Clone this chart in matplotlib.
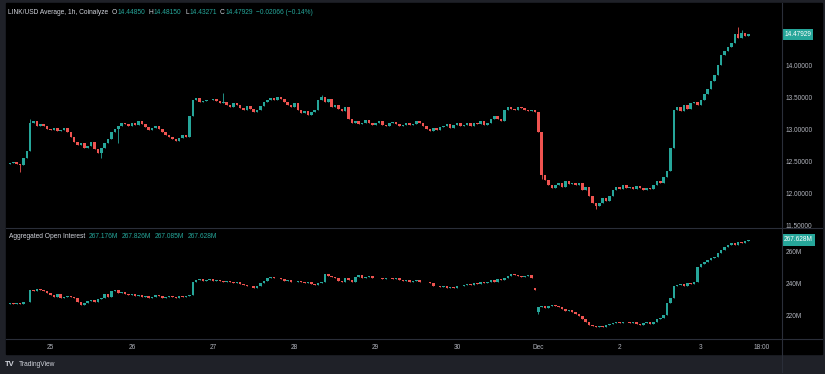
import matplotlib
matplotlib.use('Agg')
import matplotlib.pyplot as plt
from matplotlib.patches import Rectangle
from matplotlib.lines import Line2D
from matplotlib.transforms import IdentityTransform
import numpy as np
import pandas as pd

# hourly LINK/USD closes, first candle Nov 24 12:00
price_close = [
    12.47, 12.49, 12.46, 12.44, 12.55, 12.65, 13.10, 13.12, 13.05, 13.08, 13.04,
    13.00, 12.98, 13.02, 12.97, 12.99, 13.01,
    12.95, 12.88, 12.80, 12.75,
    12.78, 12.70, 12.73, 12.80, 12.68, 12.62, 12.70,
    12.78, 12.85, 12.95, 13.00, 13.05, 13.10, 13.08,
    13.05, 13.10, 13.06, 13.12, 13.08, 13.03,
    12.98, 13.02, 13.05, 13.00,
    12.95, 12.90, 12.88, 12.85, 12.82, 12.86,
    12.90, 12.88, 13.20, 13.45,
    13.48, 13.42, 13.44, 13.46, 13.45, 13.47, 13.43,
    13.40, 13.42, 13.38, 13.35, 13.40, 13.37, 13.33, 13.30, 13.36, 13.32,
    13.26, 13.30,
    13.36, 13.42, 13.45, 13.48, 13.46, 13.50, 13.47,
    13.42, 13.38, 13.35, 13.40, 13.30,
    13.25, 13.28, 13.22, 13.26, 13.30,
    13.45, 13.50, 13.42, 13.47, 13.35,
    13.38, 13.32, 13.28, 13.35,
    13.15, 13.10,
    13.12, 13.08, 13.10, 13.14, 13.09, 13.06, 13.10, 13.12, 13.07, 13.05,
    13.09, 13.11, 13.08, 13.04, 13.07, 13.10, 13.06, 13.08, 13.12, 13.10,
    13.05, 13.00, 12.97, 13.02, 12.98, 13.03,
    13.05, 13.08, 13.02, 13.06, 13.10, 13.04, 13.07, 13.09, 13.05, 13.10,
    13.08, 13.12, 13.06, 13.10, 13.15,
    13.20, 13.15, 13.12, 13.30, 13.35,
    13.32, 13.30, 13.35, 13.33, 13.30, 13.28, 13.30, 13.27,
    12.95, 12.28, 12.20, 12.12,
    12.08, 12.12, 12.15, 12.10, 12.18, 12.14, 12.16, 12.12, 12.15,
    12.05, 12.10, 11.95, 11.85, 11.80,
    11.85, 11.92, 11.88, 11.95,
    12.05, 12.10, 12.07, 12.12, 12.08, 12.10, 12.06, 12.11, 12.08, 12.05, 12.08, 12.06,
    12.12, 12.18, 12.15, 12.25, 12.35,
    12.70, 13.30,
    13.35, 13.28, 13.38, 13.32, 13.40, 13.42, 13.38, 13.45,
    13.55, 13.62, 13.75, 13.85, 14.00, 14.15,
    14.22, 14.28, 14.35,
    14.48, 14.42, 14.50, 14.4485, 14.47929,
]
price_open0 = 12.45
price_hi = {6: 13.15, 63: 13.56, 92: 13.53, 215: 14.60, 216: 14.55}
price_lo = {3: 12.33, 27: 12.55, 32: 12.78, 157: 12.22, 173: 11.75}

# aggregated open interest, millions
oi_close = [
    228.0, 227.5, 228.2, 227.8, 228.5, 229.0,
    236.5, 235.5, 237.0, 236.0, 235.5,
    234.5, 233.0, 232.0, 233.5, 231.5,
    232.0, 232.5, 231.8, 231.0,
    228.5, 227.0, 228.0,
    229.5, 230.0, 229.0, 230.5, 231.0,
    233.5, 232.0, 235.5, 236.0, 234.5, 235.0,
    234.0, 233.0, 233.5, 232.5, 233.0, 232.0,
    232.5, 231.5, 232.0, 233.0, 232.5, 231.5, 232.0, 232.8, 232.0, 231.5, 232.2, 231.8, 232.5, 233.0,
    241.0, 242.5,
    243.0, 242.0, 242.5, 243.0, 241.8, 242.5, 242.0, 241.0, 242.0, 241.5, 240.5, 241.0, 240.0,
    239.5, 238.5, 239.0, 237.5,
    239.0, 240.5, 242.0, 243.5, 244.5, 244.0,
    243.5, 243.0, 242.0, 242.5, 241.0, 241.5, 242.0, 241.0,
    240.5, 241.0, 240.0, 239.5, 240.5, 241.5,
    246.0, 245.0, 244.5,
    243.5, 242.0, 241.0, 243.5, 242.5, 241.0,
    244.5, 245.5, 244.0, 244.5, 245.0, 244.0,
    243.5, 244.0, 243.0, 243.5, 244.0, 243.0, 243.5, 242.5,
    242.0, 242.5, 241.5, 242.0, 242.5, 241.5, 241.0, 241.5, 240.5,
    239.0, 238.5, 238.0, 238.5, 237.5, 238.0, 237.5, 238.5,
    239.0, 239.5, 240.0, 239.5, 240.5, 240.0, 241.0, 240.5, 241.5, 242.5, 241.5, 243.0, 242.5,
    243.5, 245.0, 246.0, 245.5, 245.0, 244.5, 245.0, 245.5, 244.0,
    236.0, 225.5,
    226.0, 225.0, 226.5, 227.0, 226.0, 225.5,
    224.5, 223.0, 224.0, 222.5, 221.5,
    220.0, 218.0, 216.0, 214.5,
    213.5, 213.0, 214.0, 213.0, 214.5, 215.0,
    215.5, 216.0, 215.5, 216.5, 216.0, 215.5, 216.5, 215.0, 214.5, 215.5, 216.0, 215.0,
    216.5, 218.0, 219.0, 220.5,
    228.0, 231.5, 238.5, 239.5,
    240.0, 239.0, 240.5, 240.0, 241.0, 250.5,
    252.5, 253.5, 255.0, 256.5, 257.0,
    259.5, 261.0, 263.0, 264.5, 265.5,
    264.5, 266.0, 265.5, 267.176, 267.628,
]
oi_open0 = 227.8
oi_open_gap = {155: 237.5, 156: 222.5}
oi_lo = {156: 221.0}

x_ticks = ['2024-11-25 00:00', '2024-11-26 00:00', '2024-11-27 00:00', '2024-11-28 00:00',
           '2024-11-29 00:00', '2024-11-30 00:00', '2024-12-01 00:00', '2024-12-02 00:00',
           '2024-12-03 00:00', '2024-12-03 18:00']
x_labels = ['25', '26', '27', '28', '29', '30', 'Dec', '2', '3', '18:00']
price_ticks = [11.5, 12.0, 12.5, 13.0, 13.5, 14.0]
oi_ticks = [220, 240, 260]

UP = '#26a69a'
DOWN = '#ef5350'
TXT = '#b2b5be'
FRAME = '#1f2128'
LINE = '#2a2e39'

plt.rcParams['font.family'] = ['Liberation Sans', 'DejaVu Sans']

W, H = 825, 374
fig = plt.figure(figsize=(W / 100, H / 100), dpi=100, facecolor=FRAME)
fig.patches.append(Rectangle((6 / W, 1 - 354 / H), 816 / W, 351 / H,
                             transform=fig.transFigure, color='black', zorder=-10))

ax1 = fig.add_axes([6 / W, 1 - 227 / H, 775 / W, 224 / H])
ax2 = fig.add_axes([6 / W, 1 - 338 / H, 775 / W, 110 / H], sharex=ax1)


def candles(ax, closes, open0, hi, lo, gaps, min_h):
    t = pd.date_range('2024-11-24 12:00', periods=len(closes), freq='h')
    c = np.array(closes, dtype=float)
    o = np.r_[open0, c[:-1]]
    for i, v in gaps.items():
        o[i] = v
    highs = np.maximum(o, c)
    lows = np.minimum(o, c)
    for i, v in hi.items():
        highs[i] = max(highs[i], v)
    for i, v in lo.items():
        lows[i] = min(lows[i], v)
    col = np.where(c >= o, UP, DOWN)
    ax.vlines(t, lows, highs, colors=col, lw=0.6)
    small = np.abs(c - o) < min_h
    ax.bar(t, np.where(small, min_h, c - o), bottom=np.where(small, (o + c) / 2 - min_h / 2, o),
           width=0.75 / 24, color=col, linewidth=0)
    return c[-1]


last_p = candles(ax1, price_close, price_open0, price_hi, price_lo, {}, 0.012)
last_oi = candles(ax2, oi_close, oi_open0, {}, oi_lo, oi_open_gap, 0.35)

x0 = pd.Timestamp('2024-11-25') - pd.Timedelta(days=44.5 / 81.3)
x1 = pd.Timestamp('2024-11-25') + pd.Timedelta(days=730.5 / 81.3)
ax1.set_xlim(x0, x1)
ax1.set_ylim(11.469, 14.969)
ax2.set_ylim(206.25, 275)

for ax in (ax1, ax2):
    ax.set_facecolor('black')
    for s in ax.spines.values():
        s.set_visible(False)
    ax.yaxis.tick_right()
    ax.tick_params(axis='y', length=0, pad=3.6, labelsize=4.7, labelcolor=TXT)

ax1.tick_params(axis='x', bottom=False, labelbottom=False)
ax1.set_yticks(price_ticks)
ax1.set_yticklabels([f'{v:.5f}' for v in price_ticks])
ax2.set_yticks(oi_ticks)
ax2.set_yticklabels([f'{v}M' for v in oi_ticks])
ax2.set_xticks(pd.to_datetime(x_ticks, format='%Y-%m-%d %H:%M'))
ax2.set_xticklabels(x_labels)
ax2.tick_params(axis='x', length=0, pad=4.5, labelsize=4.7, labelcolor=TXT)

# last value tags
for ax, v, s in ((ax1, last_p, f'{last_p:.5f}'), (ax2, last_oi, f'{last_oi:.3f}M')):
    ax.text(1.004, v, s, transform=ax.get_yaxis_transform(), ha='left', va='center',
            fontsize=4.7, color='white', clip_on=False,
            bbox=dict(boxstyle='square,pad=0.35', fc=UP, ec='none'))

# separators
fig.add_artist(Line2D([781.5 / W] * 2, [1 - 3 / H, 1 - 372 / H], transform=fig.transFigure, color=LINE, lw=0.8))
fig.add_artist(Line2D([6 / W, 822 / W], [1 - 227.5 / H] * 2, transform=fig.transFigure, color=LINE, lw=0.8))
fig.add_artist(Line2D([6 / W, 822 / W], [1 - 338.5 / H] * 2, transform=fig.transFigure, color=LINE, lw=0.8))

# legend rows
rend = fig.canvas.get_renderer()


def header(x, y, parts, size=4.8):
    for s, c in parts:
        t = fig.text(x, H - y, s, color=c, fontsize=size, va='center', ha='left',
                     transform=IdentityTransform())
        x += t.get_window_extent(rend).width + (0.5 if len(s) == 1 else 3.5)


header(8, 13, [('LINK/USD Average, 1h, Coinalyze', '#d1d4dc'),
               ('O', '#d1d4dc'), ('14.44850', UP), ('H', '#d1d4dc'), ('14.48150', UP),
               ('L', '#d1d4dc'), ('14.43271', UP), ('C', '#d1d4dc'), ('14.47929', UP),
               ('\u22120.02066 (\u22120.14%)', UP)])
header(9, 236, [('Aggregated Open Interest', '#d1d4dc'), ('267.176M', UP), ('267.826M', UP),
                ('267.085M', UP), ('267.628M', UP)])

fig.text(5 / W, 1 - 364 / H, 'TV', color='#d1d4dc', fontsize=5.5, fontweight='bold', va='center')
fig.text(19 / W, 1 - 364 / H, 'TradingView', color='#d1d4dc', fontsize=4.8, va='center')

fig.savefig('out.png', dpi=100, facecolor=FRAME)
